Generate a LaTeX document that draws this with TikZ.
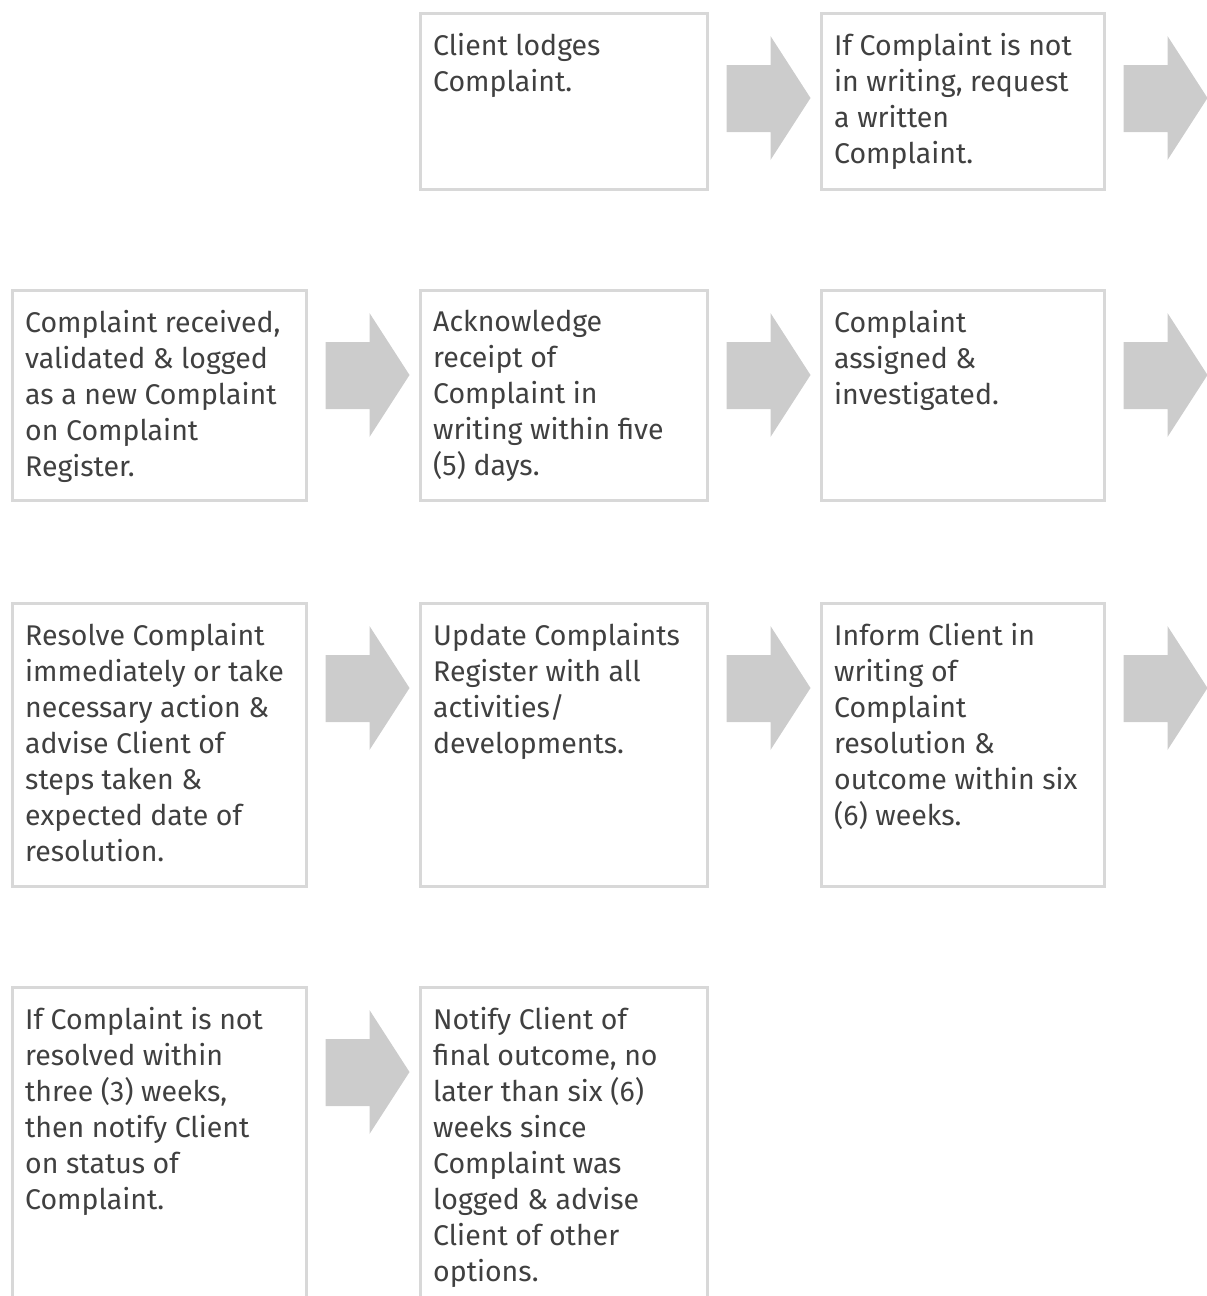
\documentclass[tikz,border=0pt]{standalone}
\usepackage{fontspec}
\setmainfont{Fira Sans}
\usetikzlibrary{calc}

\definecolor{boxgray}{HTML}{D8D8D8}
\definecolor{arrowgray}{HTML}{CCCCCC}
\definecolor{textgray}{HTML}{404040}

\tikzset{
    stepbox/.style 2 args={draw=boxgray, line width=2.5pt, anchor=north west,
        inner sep=0pt, minimum width=#1, minimum height=#2},
    steptext/.style={anchor=north west, inner sep=0pt, align=left,
        text=textgray, font=\fontsize{28.5}{36}\selectfont,
        execute at begin node=\strut}
}

\newcommand{\flowarrow}[1]{%
    \fill[arrowgray]
        ($(#1.north east)+(18,53)$) -- ($(#1.north east)+(62,53)$) --
        ($(#1.north east)+(62,24)$) -- ($(#1.north east)+(102,86)$) --
        ($(#1.north east)+(62,148)$) -- ($(#1.north east)+(62,120)$) --
        ($(#1.north east)+(18,120)$) -- cycle;}

\begin{document}
\begin{tikzpicture}[x=1pt, y=-1pt]
    \useasboundingbox (0,0) rectangle (1207,1296);
    \clip (0,0) rectangle (1207,1296);

    \node[stepbox={287pt}{176pt}] (lodge) at (419,12) {};
    \node[stepbox={283pt}{176pt}] (request) at (820,12) {};

    \node[stepbox={294pt}{210pt}] (logged) at (11,289) {};
    \node[stepbox={287pt}{210pt}] (acknowledge) at (419,289) {};
    \node[stepbox={283pt}{210pt}] (assign) at (820,289) {};

    \node[stepbox={294pt}{283pt}] (resolve) at (11,602) {};
    \node[stepbox={287pt}{283pt}] (update) at (419,602) {};
    \node[stepbox={283pt}{283pt}] (inform) at (820,602) {};

    \node[stepbox={294pt}{340pt}] (status) at (11,986) {};
    \node[stepbox={287pt}{340pt}] (notify) at (419,986) {};

    \node[steptext] (lodge-t) at ($(lodge.north west)+(14,21)$)
        {Client lodges\\Complaint.};
    \node[steptext] (request-t) at ($(request.north west)+(14,21)$)
        {If Complaint is not\\in writing, request\\a written\\Complaint.};
    \node[steptext] (logged-t) at ($(logged.north west)+(14,21)$)
        {Complaint received,\\validated \& logged\\as a new Complaint\\on Complaint\\Register.};
    \node[steptext] (acknowledge-t) at ($(acknowledge.north west)+(14,21)$)
        {Acknowledge\\receipt of\\Complaint in\\writing within five\\(5) days.};
    \node[steptext] (assign-t) at ($(assign.north west)+(14,21)$)
        {Complaint\\assigned \&\\investigated.};
    \node[steptext] (resolve-t) at ($(resolve.north west)+(14,21)$)
        {Resolve Complaint\\immediately or take\\necessary action \&\\advise Client of\\steps taken \&\\expected date of\\resolution.};
    \node[steptext] (update-t) at ($(update.north west)+(14,21)$)
        {Update Complaints\\Register with all\\activities/\\developments.};
    \node[steptext] (inform-t) at ($(inform.north west)+(14,21)$)
        {Inform Client in\\writing of\\Complaint\\resolution \&\\outcome within six\\(6) weeks.};
    \node[steptext] (status-t) at ($(status.north west)+(14,21)$)
        {If Complaint is not\\resolved within\\three (3) weeks,\\then notify Client\\on status of\\Complaint.};
    \node[steptext] (notify-t) at ($(notify.north west)+(14,21)$)
        {Notify Client of\\final outcome, no\\later than six (6)\\weeks since\\Complaint was\\logged \& advise\\Client of other\\options.};

    \flowarrow{lodge}
    \flowarrow{request}
    \flowarrow{logged}
    \flowarrow{acknowledge}
    \flowarrow{assign}
    \flowarrow{resolve}
    \flowarrow{update}
    \flowarrow{inform}
    \flowarrow{status}
\end{tikzpicture}
\end{document}
